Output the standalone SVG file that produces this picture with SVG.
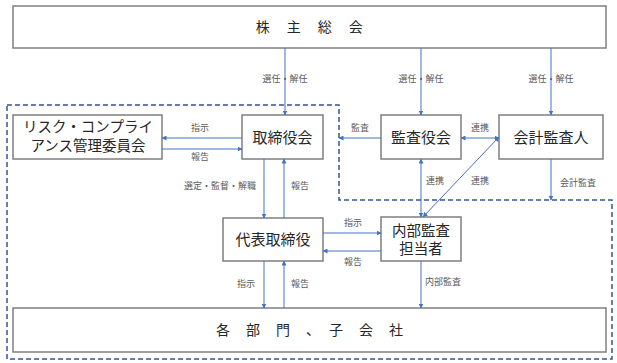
<svg xmlns="http://www.w3.org/2000/svg" width="617" height="363" viewBox="0 0 617 363">
<style>
.box{fill:#fff;stroke:#7f7f7f;stroke-width:1.5}
.t{font-family:"Noto Sans CJK JP","Noto Sans",sans-serif;fill:#262626;text-anchor:middle}
.big{font-size:15px}
.two{font-size:14.5px;font-family:"Liberation Sans","Noto Sans CJK JP",sans-serif}
.mid{font-size:14px}
.lbl{font-family:"Noto Sans CJK JP","Noto Sans",sans-serif;font-size:9px;fill:#595959;text-anchor:middle}
.c{fill:none;stroke:#4472c4;stroke-width:1}
.dash{fill:none;stroke:#2f5597;stroke-width:1.5;stroke-dasharray:5 3}
</style>
<defs>
<marker id="ah" viewBox="0 0 10 10" refX="9" refY="5" markerWidth="5" markerHeight="5" markerUnits="userSpaceOnUse" orient="auto-start-reverse">
<path d="M0 0 L10 5 L0 10 z" fill="#4472c4"/>
</marker>
</defs>
<path class="dash" d="M7 105 H339 V200 H612 V359 H7 Z"/>
<g id="shareholders"><rect class="box" x="13" y="6" width="593" height="42"/><text class="t mid" x="310" y="32" letter-spacing="1.5">株　主　総　会</text></g>
<g id="risk"><rect class="box" x="13" y="115" width="149" height="44"/><text class="t two" x="88" y="132">リスク・コンプライ</text><text class="t two" x="88" y="150.5">アンス管理委員会</text></g>
<g id="board"><rect class="box" x="242" y="115" width="81" height="44"/><text class="t big" x="282.5" y="142.5">取締役会</text></g>
<g id="auditors"><rect class="box" x="381" y="115" width="80" height="44"/><text class="t big" x="421" y="142.5">監査役会</text></g>
<g id="accountant"><rect class="box" x="499" y="115" width="104" height="44"/><text class="t big" x="551" y="142.5">会計監査人</text></g>
<g id="ceo"><rect class="box" x="223" y="218" width="100" height="43"/><text class="t big" x="273" y="245">代表取締役</text></g>
<g id="internal"><rect class="box" x="381" y="217" width="80" height="44"/><text class="t two" x="421" y="235.5">内部監査</text><text class="t two" x="421" y="253.5">担当者</text></g>
<g id="departments"><rect class="box" x="13" y="308" width="593" height="44"/><text class="t mid" x="310" y="335" letter-spacing="1">各　部　門　、　子　会　社</text></g>
<g id="connectors">
<path class="c" d="M285 48 V115" marker-end="url(#ah)"/>
<path class="c" d="M421 48 V115" marker-end="url(#ah)"/>
<path class="c" d="M551 48 V115" marker-end="url(#ah)"/>
<path class="c" d="M242 138 H162" marker-end="url(#ah)"/>
<path class="c" d="M162 149 H242" marker-end="url(#ah)"/>
<path class="c" d="M264 159 V218" marker-end="url(#ah)"/>
<path class="c" d="M284 218 V159" marker-end="url(#ah)"/>
<path class="c" d="M381 138 H339" marker-end="url(#ah)"/>
<path class="c" d="M461 138 H499" marker-start="url(#ah)" marker-end="url(#ah)"/>
<path class="c" d="M421 159 V217" marker-start="url(#ah)" marker-end="url(#ah)"/>
<path class="c" d="M499 137 L423 217" marker-start="url(#ah)" marker-end="url(#ah)"/>
<path class="c" d="M551 159 V200" marker-end="url(#ah)"/>
<path class="c" d="M323 233 H381" marker-end="url(#ah)"/>
<path class="c" d="M381 251 H323" marker-end="url(#ah)"/>
<path class="c" d="M264 261 V308" marker-end="url(#ah)"/>
<path class="c" d="M284 308 V261" marker-end="url(#ah)"/>
<path class="c" d="M421 261 V308" marker-end="url(#ah)"/>
</g>
<g id="labels">
<text class="lbl" x="285" y="82">選任・解任</text>
<text class="lbl" x="421" y="82">選任・解任</text>
<text class="lbl" x="551" y="82">選任・解任</text>
<text class="lbl" x="200" y="131">指示</text>
<text class="lbl" x="200" y="160">報告</text>
<text class="lbl" x="220" y="189">選定・監督・解職</text>
<text class="lbl" x="300" y="189">報告</text>
<text class="lbl" x="360" y="131">監査</text>
<text class="lbl" x="480" y="131">連携</text>
<text class="lbl" x="435" y="184">連携</text>
<text class="lbl" x="480" y="184">連携</text>
<text class="lbl" x="578" y="186">会計監査</text>
<text class="lbl" x="353" y="226">指示</text>
<text class="lbl" x="353" y="265">報告</text>
<text class="lbl" x="246" y="287">指示</text>
<text class="lbl" x="300" y="287">報告</text>
<text class="lbl" x="443" y="285">内部監査</text>
</g>
</svg>
